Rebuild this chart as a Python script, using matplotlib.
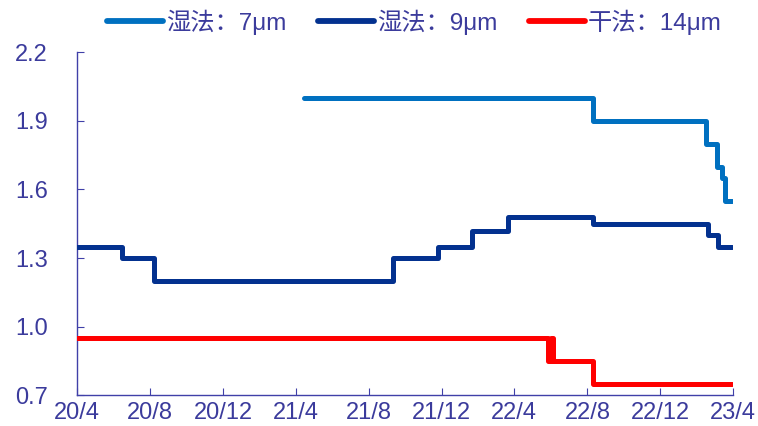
import matplotlib
matplotlib.use("Agg")
import matplotlib.pyplot as plt
from matplotlib.font_manager import FontProperties
import numpy as np
import pandas as pd

plt.rcParams['font.family'] = ['Liberation Sans', 'Noto Sans CJK SC', 'DejaVu Sans']

# 湿法 7μm
wet7_dates = ["2021-04-15", "2021-09-03", "2021-09-05", "2022-08-10", "2023-02-15",
              "2023-03-05", "2023-03-13", "2023-03-19", "2023-03-31"]
wet7_vals = [2.00, np.nan, 2.00, 1.90, 1.80, 1.70, 1.65, 1.55, 1.55]

# 湿法 9μm
wet9_dates = ["2020-04-01", "2020-06-15", "2020-08-07", "2021-09-10", "2021-11-25",
              "2022-01-20", "2022-03-22", "2022-08-10", "2023-02-18", "2023-03-07", "2023-03-31"]
wet9_vals = [1.35, 1.30, 1.20, 1.30, 1.35, 1.42, 1.48, 1.45, 1.40, 1.35, 1.35]

# 干法 14μm
dry14_dates = ["2020-04-01", "2022-05-28", "2022-06-02", "2022-06-05", "2022-08-10", "2023-03-31"]
dry14_vals = [0.95, 0.85, 0.95, 0.85, 0.75, 0.75]

tick_dates = ["2020-04-01", "2020-08-01", "2020-12-01", "2021-04-01", "2021-08-01",
              "2021-12-01", "2022-04-01", "2022-08-01", "2022-12-01", "2023-04-01"]
tick_labels = ["20/4", "20/8", "20/12", "21/4", "21/8", "21/12", "22/4", "22/8", "22/12", "23/4"]
y_ticks = [0.7, 1.0, 1.3, 1.6, 1.9, 2.2]

text_color = '#3b3b9c'
axis_color = '#4040a8'

fig = plt.figure(figsize=(7.58, 4.26), dpi=100)
ax = fig.add_axes([0.1016, 0.0716, 0.8654, 0.8063])

line_kw = dict(drawstyle='steps-post', lw=3.6, solid_capstyle='round',
               solid_joinstyle='round', zorder=3)
ax.plot(pd.to_datetime(wet7_dates), wet7_vals, color='#0070c0', label='湿法：7μm', **line_kw)
ax.plot(pd.to_datetime(wet9_dates), wet9_vals, color='#03318f', label='湿法：9μm', **line_kw)
ax.plot(pd.to_datetime(dry14_dates), dry14_vals, color='#ff0000', label='干法：14μm', **line_kw)

ax.set_xlim(pd.Timestamp("2020-04-01"), pd.Timestamp("2023-04-01"))
ax.set_ylim(0.7, 2.2)
ax.set_xticks(pd.to_datetime(tick_dates))
ax.set_xticklabels(tick_labels)
ax.set_yticks(y_ticks)
ax.set_yticklabels([f"{v:.1f}" for v in y_ticks])

for s in ['top', 'right']:
    ax.spines[s].set_visible(False)
for s in ['left', 'bottom']:
    ax.spines[s].set_color(axis_color)
    ax.spines[s].set_linewidth(1.0)

ax.tick_params(axis='x', direction='in', length=5, color=axis_color, labelcolor=text_color,
               labelsize=17, pad=5)
ax.tick_params(axis='y', direction='in', length=5, color=axis_color, labelcolor=text_color,
               labelsize=17, pad=21)

leg_font = FontProperties(family=['Liberation Sans', 'Noto Sans CJK SC'], size=17.5)
leg = fig.legend(loc='center', bbox_to_anchor=(0.547, 0.948), ncol=3, frameon=False,
                 prop=leg_font, handlelength=2.3, handletextpad=0.12, columnspacing=1.3)
for t in leg.get_texts():
    t.set_color(text_color)
for h in leg.legend_handles:
    h.set_linewidth(4.2)

fig.savefig('out.png', dpi=100)
